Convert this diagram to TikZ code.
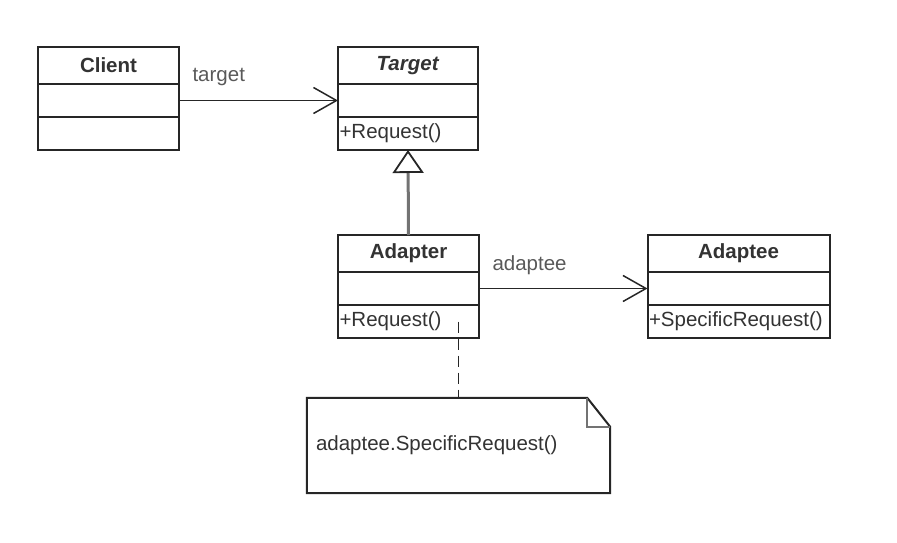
\documentclass[tikz,border=0pt]{standalone}
\usepackage{fontspec}
\setmainfont{Liberation Sans}
\usetikzlibrary{positioning,arrows.meta}
\definecolor{linedark}{gray}{0.15}
\definecolor{textdark}{gray}{0.2}
\definecolor{labelgray}{gray}{0.35}
\definecolor{gengray}{gray}{0.45}
\newcommand\umlfont{\fontsize{20.5}{24}\selectfont}
\tikzset{
  umlpart/.style={draw=linedark, line width=2pt, outer sep=0pt, text width=#1,
    inner xsep=1.5pt, inner ysep=0pt, minimum height=33pt, font=\umlfont, text=textdark},
  umltitle/.style={umlpart=#1, minimum height=37pt, align=center, font=\umlfont\bfseries},
  umlops/.style={umlpart=#1, align=left},
  assoc/.style={draw=linedark, line width=1.5pt, -{Straight Barb[length=23pt, width=26pt, line width=1.5pt]}},
  gen/.style={draw=gengray, line width=3pt, -{Triangle[open, width=31pt, length=23pt, line width=1.8pt, color=linedark]}},
  rolelabel/.style={font=\umlfont, text=labelgray},
  notebox/.style={text width=285pt, inner xsep=9pt, minimum height=95pt, align=left, font=\umlfont, text=textdark},
  noteline/.style={draw=linedark, line width=2pt},
  foldline/.style={draw=gengray, line width=2.5pt},
  notelink/.style={draw=linedark, line width=1.8pt, dash pattern=on 11pt off 6pt}
}
\begin{document}
\begin{tikzpicture}[x=1pt,y=-1pt]
\useasboundingbox (0,0) rectangle (897,543);
% classes
\node[umltitle=138pt] (client) at (108.5,65.5) {Client};
\node[umlpart=138pt, below=0pt of client] (client-attr) {};
\node[umlops=138pt, below=0pt of client-attr] (client-ops) {};

\node[umltitle=137pt] (target) at (408,65.5) {\textit{Target}};
\node[umlpart=137pt, below=0pt of target] (target-attr) {};
\node[umlops=137pt, below=0pt of target-attr] (target-ops) {+Request()};

\node[umltitle=138pt] (adapter) at (408.5,253.5) {Adapter};
\node[umlpart=138pt, below=0pt of adapter] (adapter-attr) {};
\node[umlops=138pt, below=0pt of adapter-attr] (adapter-ops) {+Request()};

\node[umltitle=179pt] (adaptee) at (738.5,253.5) {Adaptee};
\node[umlpart=179pt, below=0pt of adaptee] (adaptee-attr) {};
\node[umlops=179pt, below=0pt of adaptee-attr] (adaptee-ops) {+SpecificRequest()};
% relations
\draw[assoc] (client-attr.east) -- (target-attr.west) node[rolelabel, pos=0.25, above=11pt] (target-role) {target};
\draw[assoc] (adapter-attr.east) -- (adaptee-attr.west) node[rolelabel, pos=0.3, above=10pt] (adaptee-role) {adaptee};
\draw[gen] (adapter.north) -- (target-ops.south);
% note
\node[notebox] (note) at (458.5,445.5) {adaptee.SpecificRequest()};
\draw[noteline] (note.north west) -- ([xshift=-23pt]note.north east) -- ([yshift=-29pt]note.north east)
  -- (note.south east) -- (note.south west) -- cycle;
\draw[foldline] ([xshift=-23pt]note.north east) |- ([yshift=-29pt]note.north east);
\coordinate (adapter-link) at (note.north |- adapter-ops.center);
\draw[notelink] (adapter-link) -- (note.north);
\end{tikzpicture}
\end{document}
